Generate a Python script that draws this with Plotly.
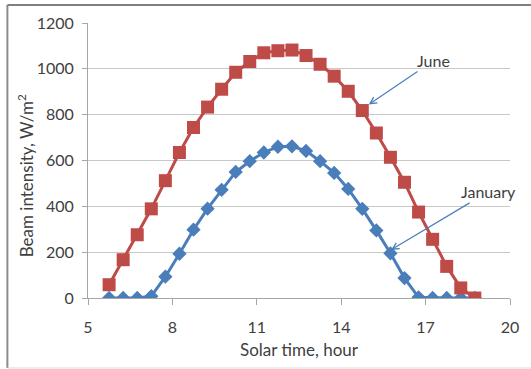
import plotly.graph_objects as go

hours = [5.75, 6.25, 6.75, 7.25, 7.75, 8.25, 8.75, 9.25, 9.75, 10.25, 10.75, 11.25, 11.75,
         12.25, 12.75, 13.25, 13.75, 14.25, 14.75, 15.25, 15.75, 16.25, 16.75, 17.25, 17.75,
         18.25, 18.75]
january = [0, 0, 0, 8, 93, 193, 298, 390, 472, 550, 597, 635, 660,
           662, 642, 597, 546, 476, 389, 295, 195, 87, 3, 0, 0,
           0, 0]
june = [58, 167, 276, 389, 512, 635, 744, 833, 911, 985, 1032, 1070, 1079,
        1082, 1058, 1020, 968, 902, 818, 720, 614, 505, 375, 256, 138,
        44, 0]
x_ticks = [5, 8, 11, 14, 17, 20]
y_ticks = [0, 200, 400, 600, 800, 1000, 1200]

FONT = "Lato"
TXT = "#404040"
BLUE = "#4A7EBB"
RED = "#BE4B48"

L, R, T, B = 88, 19, 23, 71
W, H = 531, 369
PW, PH = W - L - R, H - T - B


def px2paper(px, py):
    return (px - L) / PW, (H - B - py) / PH


fig = go.Figure()
fig.add_trace(go.Scatter(x=hours, y=january, mode="lines+markers", name="January",
                         line=dict(color=BLUE, width=3),
                         marker=dict(symbol="diamond", size=11, color=BLUE)))
fig.add_trace(go.Scatter(x=hours, y=june, mode="lines+markers", name="June",
                         line=dict(color=RED, width=3),
                         marker=dict(symbol="square", size=13, color=RED)))

fig.update_layout(
    width=W, height=H,
    margin=dict(l=L, r=R, t=T, b=B),
    paper_bgcolor="white", plot_bgcolor="white",
    showlegend=False,
    font=dict(family=FONT, size=16, color=TXT),
    xaxis=dict(range=[5, 20], tickvals=x_ticks, showgrid=False, zeroline=False,
               showline=True, linecolor="#A6A6A6", linewidth=1,
               ticks="outside", ticklen=6, tickcolor="#A6A6A6",
               ticklabelstandoff=9,
               tickfont=dict(size=16, color=TXT),
               title=dict(text="Solar time, hour", font=dict(size=17, color=TXT), standoff=8)),
    yaxis=dict(range=[0, 1200], tickvals=y_ticks, showgrid=True, gridcolor="#C8C8C8",
               gridwidth=1, zeroline=False,
               showline=True, linecolor="#A6A6A6", linewidth=1,
               ticks="outside", ticklen=5, tickcolor="#A6A6A6",
               ticklabelstandoff=5,
               tickfont=dict(size=16, color=TXT)),
)

# y-axis title (placed as rotated text, centred where the reference has it)
tx, ty = px2paper(25, 176)
fig.add_annotation(x=tx, y=ty, xref="paper", yref="paper", text="Beam intensity, W/m<sup>2</sup>",
                   textangle=-90, showarrow=False, xanchor="center", yanchor="middle",
                   font=dict(size=17, color=TXT))

# callouts: text with arrow pointing to a marker
fig.add_annotation(x=14.98, y=844, xref="x", yref="y", text="June", showarrow=True,
                   ax=65, ay=-44, arrowhead=5, arrowsize=1.1, arrowwidth=1.2, arrowcolor=BLUE,
                   standoff=0, font=dict(size=16, color=TXT))
fig.add_annotation(x=15.77, y=210, xref="x", yref="y", text="January", showarrow=True,
                   ax=97, ay=-58, arrowhead=5, arrowsize=1.1, arrowwidth=1.2, arrowcolor=BLUE,
                   standoff=0, font=dict(size=16, color=TXT))

# outer chart frame (left & top visible, faint bottom)
lx, _ = px2paper(7, 0)
_, ty0 = px2paper(0, 5)
_, by = px2paper(0, 368)
rx, _ = px2paper(540, 0)
fig.add_shape(type="line", xref="paper", yref="paper", x0=lx, x1=lx, y0=by, y1=ty0,
              line=dict(color="#8C8C8C", width=2))
fig.add_shape(type="line", xref="paper", yref="paper", x0=lx, x1=rx, y0=ty0, y1=ty0,
              line=dict(color="#7F7F7F", width=2))
fig.add_shape(type="line", xref="paper", yref="paper", x0=lx, x1=rx, y0=by, y1=by,
              line=dict(color="#D9D9D9", width=1))

fig.write_html("out.html", config={"displayModeBar": False},
               post_script="document.body.style.margin='0px';")
